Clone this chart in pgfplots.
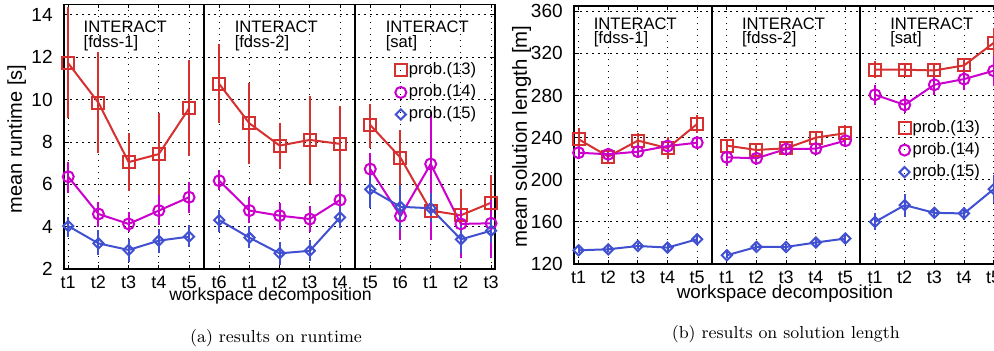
\documentclass[border=0pt]{standalone}
\usepackage{fontspec}
\usepackage{pgfplots}
\usepackage{pgfplotstable}
\pgfplotsset{compat=1.18}
\newfontfamily\hv{Liberation Sans}
\definecolor{cR}{RGB}{214,48,48}
\definecolor{cM}{RGB}{204,0,204}
\definecolor{cB}{RGB}{64,80,208}

\pgfplotstableread{
x y ep em
1 11.72 2.64 2.60
2 9.86 2.41 2.36
3 7.05 1.39 1.35
4 7.43 1.95 2.00
5 9.59 2.28 2.25
5.5 nan 0 0
6 10.74 1.89 1.86
7 8.88 1.92 1.93
8 7.83 1.08 1.12
9 8.10 2.07 2.10
10 7.91 1.79 1.83
10.5 nan 0 0
11 8.80 0.99 1.10
12 7.26 1.31 1.68
13 4.76 0.93 0.93
14 4.54 1.26 1.17
15 5.13 1.31 1.13
}\tLR
\pgfplotstableread{
x y ep em
1 6.36 0.71 0.76
2 4.60 0.58 0.63
3 4.13 0.57 0.36
4 4.76 0.74 0.68
5 5.39 0.74 0.76
5.5 nan 0 0
6 6.17 0.51 0.44
7 4.76 0.66 0.60
8 4.52 0.60 0.69
9 4.36 0.62 0.60
10 5.26 0.82 0.63
10.5 nan 0 0
11 6.72 0.74 0.83
12 4.50 0.76 1.13
13 6.96 2.40 3.59
14 4.13 0.66 1.63
15 4.16 1.10 1.66
}\tLM
\pgfplotstableread{
x y ep em
1 4.03 0.44 0.50
2 3.21 0.63 0.55
3 2.90 0.50 0.56
4 3.34 0.53 0.60
5 3.53 0.55 0.50
5.5 nan 0 0
6 4.31 0.48 0.55
7 3.48 0.53 0.49
8 2.74 0.55 0.54
9 2.86 0.51 0.50
10 4.44 0.54 0.52
10.5 nan 0 0
11 5.76 0.76 0.89
12 4.94 1.03 1.10
13 4.87 0.71 0.63
14 3.40 0.61 0.66
15 3.81 0.66 0.60
}\tLB
\pgfplotstableread{
x y ep em
1 238.5 10.5 8.5
2 222.0 5 5
3 237.2 7 7
4 230.0 11 10.5
5 253.0 8.6 9
5.5 nan 0 0
6 232.4 6 6
7 228.3 5 5
8 229.9 5 5
9 240.0 6 6
10 244.2 8 8
10.5 nan 0 0
11 304.5 8 8
12 304.5 6 6
13 303.8 5 5
14 308.6 6 6
15 330.0 14 14
}\tRR
\pgfplotstableread{
x y ep em
1 225.7 6 6
2 224.2 5 5
3 226.7 6 6
4 232.0 5 5
5 235.2 6 6
5.5 nan 0 0
6 221.3 6 8
7 220.4 6 6
8 229.2 4 4
9 229.5 5 5
10 237.1 5 5
10.5 nan 0 0
11 280.7 9.5 9.5
12 271.1 8 8
13 290.2 9.5 9.5
14 295.6 10 10
15 303.5 14 14
}\tRM
\pgfplotstableread{
x y ep em
1 133.0 3 3
2 134.0 3 3
3 137.1 3 3
4 135.6 4 4
5 143.5 4 4
5.5 nan 0 0
6 128.3 3 3
7 136.2 3 3
8 136.2 3 3
9 140.4 3 3
10 144.2 3 3
10.5 nan 0 0
11 160.0 8 8
12 175.9 11 11
13 168.6 5 5
14 168.0 6 6
15 191.1 13.5 13.5
}\tRB

\pgfplotsset{
  panel/.style={
    scale only axis,
    axis line style={black, line width=0.9pt},
    grid=major,
    major grid style={black, line width=0.5pt, dash pattern=on 0.6pt off 2.4pt},
    tick style={black, line width=0.5pt},
    major tick length=2pt,
    tick align=inside,
    xtick={1,...,15},
    /pgf/number format/assume math mode=true,
    xticklabel style={font=\hv\fontsize{9}{10}\selectfont},
    yticklabel style={font=\hv\fontsize{9.5}{11}\selectfont, xshift=-2.3pt},
    unbounded coords=jump,
    legend style={draw=none, fill=none, font=\hv\fontsize{8.3}{10}\selectfont,
      inner sep=0pt, row sep=1.5pt, cells={anchor=west},
      nodes={inner sep=1pt}},
    legend image code/.code={\draw[mark repeat=2,mark phase=2,##1] plot coordinates {(0pt,0pt) (3pt,0pt) (6pt,0pt)};},
  },
  eb/.style={error bars/.cd, y dir=both, y explicit, error mark=none,
      error bar style={line width=1pt}},
  sR/.style={cR, line width=1pt, mark=square, mark size=3pt},
  sM/.style={cM, line width=1pt, mark=o, mark size=2.75pt},
  sB/.style={cB, line width=1pt, mark=square, mark size=1.8pt, mark options={rotate=45}},
}
\tikzset{txt/.style={anchor=west, inner sep=0pt, font=\hv\fontsize{8.3}{10}\selectfont}}

\begin{document}
\begin{tikzpicture}
\path[use as bounding box] (0,0) rectangle (497pt,-175pt);

% ---------- (a) runtime ----------
\begin{axis}[panel,
  at={(32.15pt,-2.2pt)}, anchor=north west,
  width=215.35pt, height=132.3pt,
  xmin=0.87, xmax=15.13, ymin=2, ymax=14.5,
  ytick={2,4,...,14},
  xticklabels={t1,t2,t3,t4,t5,t6,t1,t2,t3,t4,t5,t6,t1,t2,t3},
  legend style={at={(axis cs:11.8,11.85)}, anchor=north west},
]
\addlegendimage{sR, only marks}\addlegendentry{prob.(13)}
\addlegendimage{sM, only marks}\addlegendentry{prob.(14)}
\addlegendimage{sB, only marks}\addlegendentry{prob.(15)}
\addplot[sR, forget plot, eb] table[x=x, y=y, y error plus=ep, y error minus=em] {\tLR};
\addplot[sM, forget plot, eb] table[x=x, y=y, y error plus=ep, y error minus=em] {\tLM};
\addplot[sB, forget plot, eb] table[x=x, y=y, y error plus=ep, y error minus=em] {\tLB};
\draw[black, line width=0.9pt] (axis cs:5.5,2) -- (axis cs:5.5,14.5);
\draw[black, line width=0.9pt] (axis cs:10.5,2) -- (axis cs:10.5,14.5);
\node[txt] at (axis cs:1.5,13.45) {INTERACT};
\node[txt] at (axis cs:1.5,12.66) {[fdss-1]};
\node[txt] at (axis cs:6.5,13.45) {INTERACT};
\node[txt] at (axis cs:6.5,12.66) {[fdss-2]};
\node[txt] at (axis cs:11.5,13.45) {INTERACT};
\node[txt] at (axis cs:11.5,12.66) {[sat]};
\end{axis}

% ---------- (b) solution length ----------
\begin{axis}[panel,
  at={(287.15pt,-3pt)}, anchor=north west,
  width=211.6pt, height=129pt,
  xmin=0.855, xmax=15.13, ymin=120, ymax=365,
  ytick={120,160,...,360},
  xticklabels={t1,t2,t3,t4,t5,t1,t2,t3,t4,t5,t1,t2,t3,t4,t5},
  legend style={at={(axis cs:11.78,258.5)}, anchor=north west},
]
\addlegendimage{sR, only marks}\addlegendentry{prob.(13)}
\addlegendimage{sM, only marks}\addlegendentry{prob.(14)}
\addlegendimage{sB, only marks}\addlegendentry{prob.(15)}
\addplot[sR, forget plot, eb] table[x=x, y=y, y error plus=ep, y error minus=em] {\tRR};
\addplot[sM, forget plot, eb] table[x=x, y=y, y error plus=ep, y error minus=em] {\tRM};
\addplot[sB, forget plot, eb] table[x=x, y=y, y error plus=ep, y error minus=em] {\tRB};
\draw[black, line width=0.9pt] (axis cs:5.5,120) -- (axis cs:5.5,365);
\draw[black, line width=0.9pt] (axis cs:10.5,120) -- (axis cs:10.5,365);
\node[txt] at (axis cs:1.5,348.3) {INTERACT};
\node[txt] at (axis cs:1.5,333.7) {[fdss-1]};
\node[txt] at (axis cs:6.5,348.3) {INTERACT};
\node[txt] at (axis cs:6.5,333.7) {[fdss-2]};
\node[txt] at (axis cs:11.5,348.3) {INTERACT};
\node[txt] at (axis cs:11.5,333.7) {[sat]};
\end{axis}

% labels and captions
\node[rotate=90, font=\hv\fontsize{10}{12}\selectfont] at (8.35pt,-69.5pt) {mean runtime [s]};
\node[rotate=90, font=\hv\fontsize{10.2}{12}\selectfont] at (260.85pt,-68.35pt) {mean solution length [m]};
\node[font=\hv\fontsize{8.8}{10}\selectfont] at (135.25pt,-148pt) {workspace decomposition};
\node[font=\hv\fontsize{9.4}{11}\selectfont] at (392.5pt,-146.65pt) {workspace decomposition};
\node[font=\fontsize{8.7}{10}\selectfont] at (138pt,-169pt) {(a)\ results on runtime};
\node[font=\fontsize{8.7}{10}\selectfont] at (392.9pt,-167pt) {(b)\ results on solution length};
\end{tikzpicture}
\end{document}
